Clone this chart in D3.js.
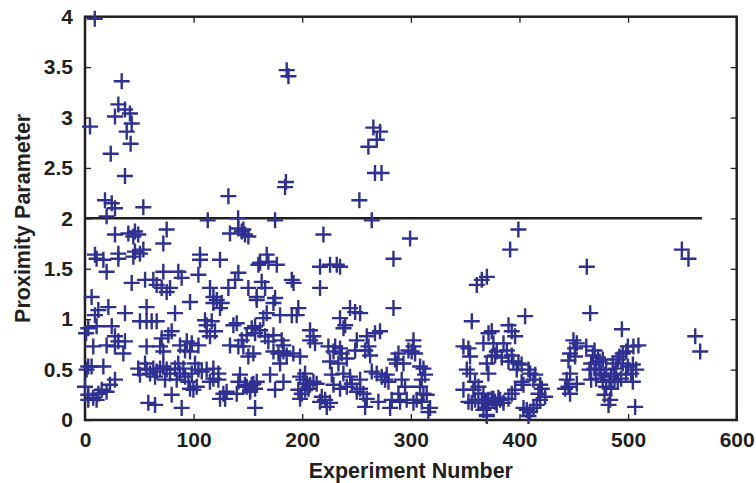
<!DOCTYPE html>
<html><head><meta charset="utf-8">
<script src="https://cdn.jsdelivr.net/npm/d3@7"></script>
<style>body{margin:0;background:#fff}</style>
</head><body><svg id="c" width="756" height="483"></svg>
<script>
const xTicks=[0,100,200,300,400,500,600];
const yTicks=[0,0.5,1,1.5,2,2.5,3,3.5,4];
const xTitle="Experiment Number";
const yTitle="Proximity Parameter";
const threshold=2, thresholdEnd=568;

// [experiment number, proximity parameter]
const runs0to100=[[9,3.98],[33.8,3.36],[30.7,3.13],[36.8,3.08],[41.4,3.04],[27.6,3.01],[4.6,2.91],[43,2.94],[38.4,2.86],[42,2.74],[23.7,2.64],[36.8,2.42],[18.4,2.18],[24.6,2.15],[27.6,2.10],[53.7,2.11],[19.9,2.02],
[27.6,1.84],[39.9,1.85],[46,1.87],[44.5,1.82],[49,1.84],[75.2,1.89],[72.1,1.75],
[9.2,1.64],[10.7,1.60],[16.9,1.59],[19.9,1.47],[30.7,1.65],[30.7,1.60],[46,1.67],[44.5,1.62],[50.6,1.65],[53.7,1.69],
[43,1.36],[55.3,1.39],[62.9,1.39],[66,1.34],[72.1,1.47],[70.6,1.31],[75.2,1.27],[78.3,1.31],[85.9,1.47],[89,1.41],[96.7,1.17],[82.9,1.06],
[6.1,1.22],[9.2,1.04],[12.3,1.09],[21.5,1.12],[36.8,1.06],[56.7,1.12],[50.6,0.98],[56.7,0.98],[61.4,0.98],[66,0.98],
[1,0.86],[3,0.91],[10.7,0.93],[24.6,0.93],[7.6,0.73],[19.9,0.74],[27.6,0.83],[30.7,0.78],[36.8,0.78],[35.3,0.66],[27.6,0.73],[56.7,0.73],[69.1,0.73],[70.6,0.81],[76.7,0.84],[79.8,0.88],[72.1,0.68],[87.5,0.74],[93.7,0.78],[92.1,0.69],[98.3,0.76],[96.7,0.68],
[3,0.53],[1.5,0.50],[6.1,0.53],[16.9,0.53],[27.6,0.40],[23,0.35],[0,0.33],[3,0.25],[7.6,0.22],[12.3,0.26],[15.4,0.30],[10.7,0.20],[19.9,0.28],[3,0.20],
[49,0.51],[50.6,0.45],[55.3,0.56],[56.7,0.50],[59.9,0.46],[62.9,0.51],[64.5,0.43],[66,0.48],[69.1,0.51],[72.1,0.53],[75.2,0.50],[73.7,0.40],[78.3,0.46],[82.9,0.51],[85.9,0.56],[87.5,0.46],[84.4,0.40],[90.6,0.51],[92.1,0.43],[95.2,0.38],[96.7,0.31],[99.8,0.30],[98.3,0.46],
[79.8,0.25],[89,0.12],[58.3,0.17],[64.5,0.15]];

const runs100to200=[[132,2.22],[113,1.98],[141,2.0],[185.7,3.47],[187.3,3.41],[185,2.36],[184.2,2.31],[175,1.98],
[133.5,1.85],[141.2,1.90],[144.3,1.87],[147.3,1.84],[145.8,1.89],[150.4,1.82],
[105.9,1.59],[105.9,1.64],[104.4,1.44],[124.3,1.59],[115.1,1.31],[118.2,1.22],[121.3,1.19],[125.9,1.16],[124.3,1.11],[118.2,1.16],[132,1.31],[141.2,1.46],[138.2,1.39],[150.4,1.31],[159.6,1.54],[158.1,1.19],
[167.3,1.64],[168.8,1.57],[176.6,1.54],[161.2,1.56],[190.4,1.39],[192,1.36],[162.7,1.37],[165.8,1.31],[158.1,1.22],[175,1.21],[173.5,1.16],[167.3,1.06],[179.6,1.04],[196.4,1.11],[194.9,1.04],[190.4,1.04],[164.2,1.01],
[110.5,0.99],[112,0.94],[116.7,0.98],[112,0.88],[115.1,0.83],[119.7,0.88],[133.5,0.74],[136.6,0.94],[139.7,0.96],[141.2,0.73],[144.3,0.79],[148.9,0.84],[153.5,0.91],[156.6,0.93],[150.4,0.63],[104.4,0.74],
[156.6,0.86],[161.2,0.89],[165.8,0.83],[173.5,0.84],[181.1,0.79],[168.8,0.78],[182.7,0.74],[145.8,0.73],[155,0.66],[173.5,0.68],[178.1,0.66],[182.7,0.68],[185.7,0.64],[191.8,0.66],[198,0.63],[179.6,0.56],[170.4,0.45],[182.7,0.38],[175,0.30],
[101.3,0.56],[102.9,0.33],[104.4,0.50],[107.5,0.48],[112,0.50],[118.2,0.41],[122.8,0.40],[127.4,0.26],[130.4,0.28],[124.3,0.21],[129,0.21],[142.7,0.45],[148.9,0.33],[152,0.28],[155,0.36],[156.6,0.31],[158.1,0.38],[156.6,0.12],[139.7,0.26],[141.2,0.38],[147.3,0.35],[118.2,0.51],[122.8,0.46],[115,0.38],
[152,0.30],[153.5,0.35],[198,0.43],[198,0.21],[196.4,0.30],[199.5,0.26]];

const runs200to300=[[265.5,2.90],[271.7,2.86],[268.6,2.78],[260.9,2.71],[267,2.45],[273,2.45],[252.6,2.18],[264,1.98],
[219.5,1.84],[216.4,1.52],[225.6,1.54],[231.8,1.54],[234.8,1.52],[216.4,1.31],[299.3,1.80],[284,1.60],[284,1.11],
[244,1.11],[248.7,1.07],[253.3,1.06],[234.8,1.01],[239.5,0.94],[238,0.91],[207.2,0.89],[210.3,0.83],[207.2,0.79],[211.8,0.76],
[201.1,0.40],[204.2,0.36],[202.6,0.46],[207.2,0.35],[210.3,0.38],[213.3,0.36],[202.6,0.30],[205.7,0.31],[218,0.23],[221.1,0.20],[222.6,0.13],[225.6,0.17],[216.4,0.18],
[224.1,0.73],[230.3,0.73],[234.8,0.71],[228.8,0.68],[236.4,0.66],[225.6,0.58],[233.3,0.56],[241,0.61],[248.7,0.69],[250.2,0.79],[259.4,0.83],[261,0.73],[267,0.86],[271.6,0.88],[258,0.69],[262.5,0.64],
[237.9,0.46],[244,0.43],[227.2,0.45],[228.8,0.35],[234.8,0.31],[241,0.33],[245.6,0.36],[250.2,0.28],[253.3,0.31],[256.3,0.26],[259.4,0.21],[257.9,0.13],[253.3,0.40],
[264,0.48],[268.6,0.46],[273.2,0.43],[276.3,0.40],[277.8,0.45],[279.4,0.38],[270.1,0.18],[282.4,0.20],[280.9,0.12],
[285.5,0.60],[288.6,0.66],[287,0.56],[293.2,0.56],[291.6,0.40],[294.7,0.33],[288.6,0.26],[296.2,0.20],[290.1,0.18],[297.8,0.69]];

const runs300to400=[[302.4,0.73],[300.8,0.68],[303.9,0.66],[302.4,0.79],[308.5,0.53],[311.6,0.51],[310,0.40],[313.1,0.45],[308.5,0.33],[311.6,0.26],[314.6,0.25],[305.4,0.20],[310,0.18],[317.7,0.12],[316.1,0.08],[302.4,0.17],
[360.7,1.34],[370,1.42],[356.1,0.98],[371.5,0.86],[399,1.89],[391.4,1.69],[365.3,1.39],
[348.4,0.73],[353,0.71],[354.5,0.63],[351.5,0.50],[354.5,0.46],[359.1,0.38],[348.4,0.30],[357.6,0.30],[362.2,0.33],[353,0.18],[356.1,0.17],[359.1,0.20],[362.2,0.17],[365.3,0.20],[368.3,0.17],[369.9,0.12],[369.9,0.05],[374.5,0.21],[377.5,0.18],[380.6,0.22],
[366.8,0.76],[369.9,0.56],[374.5,0.63],[379.1,0.68],[376,0.76],[371.4,0.46],
[389.9,0.94],[374.5,0.88],[396,0.83],[392.9,0.88],[385.3,0.76],[388.4,0.69],[377.6,0.64],[383.7,0.62],[392.9,0.64],[389.9,0.58],[394.4,0.58],[399,0.56],[397.5,0.50],
[396,0.30],[392.9,0.26],[389.9,0.21],[382.2,0.20],[376,0.21],[371.4,0.20],[370,0.17],[366.8,0.10],[370,0.04],[379.1,0.15],[385.3,0.17],[366.8,0.26]];

const runs400to600=[[405.2,1.03],[402,0.55],[408.3,0.50],[409.9,0.46],[414.5,0.45],[412.9,0.40],[419,0.35],[420.6,0.31],[423.6,0.23],[417.5,0.26],[419,0.20],[415.9,0.15],[412.9,0.12],[409.8,0.08],[406.7,0.10],[403.7,0.12],[408.3,0.04],[402,0.38],[403.7,0.35],
[462,1.52],[465.1,1.06],[494.3,0.90],[449.7,0.79],[452.8,0.76],[451.2,0.71],[446.6,0.66],[451.2,0.63],[445.1,0.59],[446.6,0.46],[443.5,0.40],[452.8,0.36],[442,0.31],[446.6,0.26],[445.1,0.33],
[461.5,0.73],[469.1,0.69],[467.6,0.64],[472.2,0.62],[466,0.56],[470.6,0.56],[473.7,0.58],[476.7,0.60],[464.5,0.50],[469.1,0.51],[473.7,0.50],[475.2,0.46],[478.3,0.45],[479.8,0.50],[466,0.40],[470.6,0.41],[476.7,0.38],[479.8,0.33],[482.9,0.38],[484.4,0.43],[487.5,0.46],[489,0.51],[485.9,0.56],[490.5,0.60],[492.1,0.63],[495.1,0.66],[498.2,0.68],[499.8,0.73],[509.5,0.74],[504.9,0.73],[495.1,0.56],[499.8,0.53],[504.4,0.55],[507.5,0.50],[502.9,0.46],[498.2,0.45],[493.6,0.41],[490.5,0.38],[504.4,0.38],[487.5,0.40],[478.3,0.25],[483.5,0.20],[482,0.15],[506.5,0.13],[484.4,0.31],
[549.5,1.69],[555.6,1.60],[561.8,0.83],[566.4,0.68]];

const allRuns=[].concat(runs0to100,runs100to200,runs200to300,runs300to400,runs400to600);

const svg=d3.select("#c");
const L=85,R=736.7,T=16.7,B=420;
const x=d3.scaleLinear().domain([0,600]).range([L,R]);
const y=d3.scaleLinear().domain([0,4]).range([B,T]);
const ink="#231f20", markColor="#2e3192";
const font="'Liberation Sans', Arial, Helvetica, sans-serif";

function styleAxis(g,labels){
  g.select(".domain").remove();
  g.selectAll(".tick line").attr("stroke",ink).attr("stroke-width",1.3);
  if(labels){
    g.selectAll(".tick text").attr("fill",ink).style("font-family",font).style("font-weight","bold").style("font-size","21px");
  } else g.selectAll(".tick text").remove();
}
const tick=6;
svg.append("g").attr("transform",`translate(0,${B})`).call(d3.axisBottom(x).tickValues(xTicks).tickSizeInner(-tick).tickSizeOuter(0).tickPadding(12).tickFormat(d3.format("d"))).call(g=>styleAxis(g,true));
svg.append("g").attr("transform",`translate(0,${T})`).call(d3.axisTop(x).tickValues(xTicks.slice(1,-1)).tickSizeInner(-tick).tickSizeOuter(0)).call(g=>styleAxis(g,false));
svg.append("g").attr("transform",`translate(${L},0)`).call(d3.axisLeft(y).tickValues(yTicks).tickSizeInner(-tick).tickSizeOuter(0).tickPadding(12).tickFormat(d=>String(d))).call(g=>styleAxis(g,true));
svg.append("g").attr("transform",`translate(${R},0)`).call(d3.axisRight(y).tickValues(yTicks.slice(1,-1)).tickSizeInner(-tick).tickSizeOuter(0)).call(g=>styleAxis(g,false));

// frame
svg.append("rect").attr("x",L).attr("y",T).attr("width",R-L).attr("height",B-T).attr("fill","none").attr("stroke",ink).attr("stroke-width",2.5);

// threshold line
svg.append("line").attr("x1",x(0)).attr("x2",x(thresholdEnd)).attr("y1",y(threshold)).attr("y2",y(threshold)).attr("stroke",ink).attr("stroke-width",2.5);

// markers
const h=8;
svg.append("g").selectAll("path").data(allRuns).join("path")
  .attr("transform",d=>`translate(${x(d[0])},${y(d[1])})`)
  .attr("d",`M${-h},0H${h}M0,${-h}V${h}`)
  .attr("stroke",markColor).attr("stroke-width",2.4).attr("fill","none");

// titles
svg.append("text").attr("x",(L+R)/2).attr("y",478).attr("text-anchor","middle")
  .attr("fill",ink).style("font-family",font).style("font-weight","bold").style("font-size","21.5px").text(xTitle);
svg.append("text").attr("transform",`translate(30,${(T+B)/2}) rotate(-90)`).attr("text-anchor","middle")
  .attr("fill",ink).style("font-family",font).style("font-weight","bold").style("font-size","21.5px").text(yTitle);
</script></body></html>
